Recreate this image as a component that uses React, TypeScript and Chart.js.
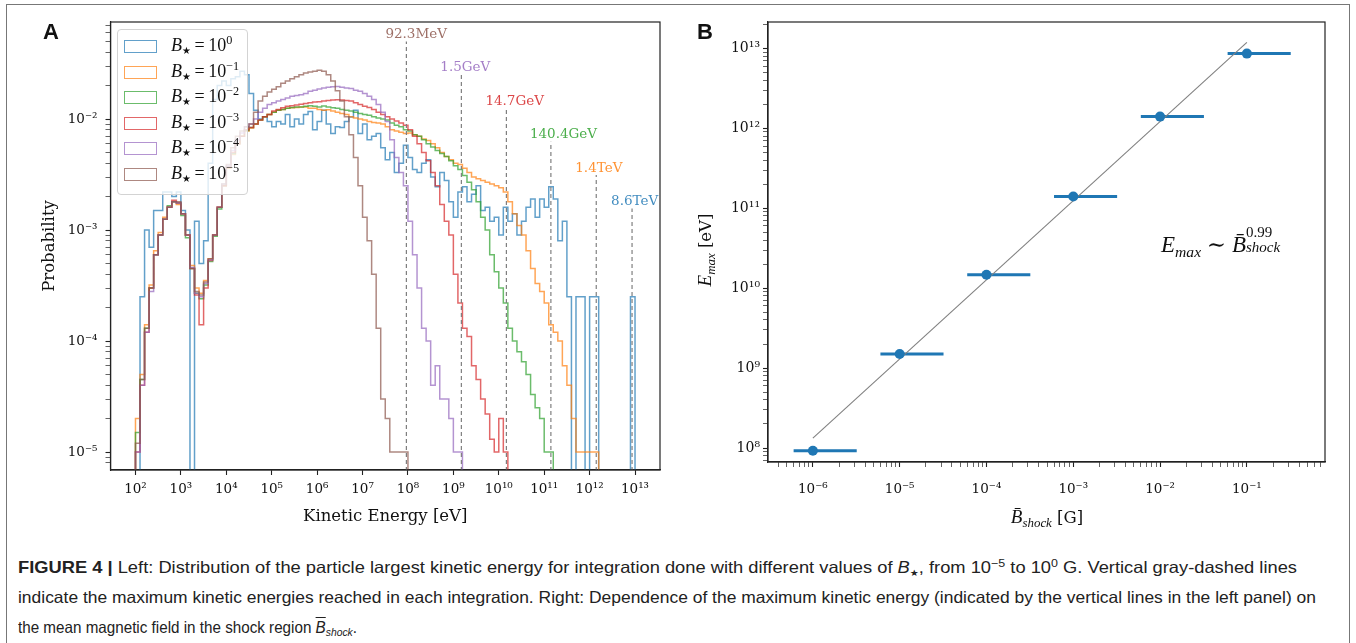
import React, { useEffect, useLayoutEffect, useRef } from "react";
import { Chart, registerables } from "chart.js";

Chart.register(...registerables);

// ---------------- Panel A : histograms ----------------
// bins of 0.1 decade starting at 10^2 eV
const BIN_START_LOG = 2.0;
const BIN_WIDTH_LOG = 0.1;
const FLOOR = 1e-7;

const HIST_B_1E0 = [
  0, 2.5e-4, 1e-3, 7e-4, 1.5e-3, 1.5e-3, 2.2e-3, 2.2e-3, 2e-3, 2.2e-3,
  1.5e-3, 1e-3, 0, 1.2e-3, 5e-4, 8e-4, 4e-3, 1.5e-2, 2e-2, 2.2e-2,
  2e-2, 2.3e-2, 2.4e-2, 2.7e-2, 2.5e-2, 1.7e-2, 1.2e-2, 1e-2, 1.05e-2, 9.5e-3,
  8.5e-3, 9.5e-3, 9e-3, 1.1e-2, 8.5e-3, 1e-2, 9e-3, 1.1e-2, 1.17e-2, 8e-3,
  9.5e-3, 1.2e-2, 9e-3, 7.4e-3, 8.5e-3, 8.4e-3, 9.5e-3, 1.04e-2, 1.2e-2, 7.4e-3,
  9e-3, 6.5e-3, 7e-3, 7.4e-3, 5.5e-3, 4.3e-3, 5e-3, 3.3e-3, 4e-3, 5.8e-3,
  4.5e-3, 3.5e-3, 3.3e-3, 4e-3, 4.3e-3, 3e-3, 2.45e-3, 3.3e-3, 2.8e-3, 1.8e-3,
  1.3e-3, 2.2e-3, 2.45e-3, 1.8e-3, 2.1e-3, 2.5e-3, 1.5e-3, 1.6e-3, 1.2e-3, 1.3e-3,
  9e-4, 1.6e-3, 1.2e-3, 1.4e-3, 9e-4, 1.2e-3, 1.6e-3, 1.9e-3, 1.3e-3, 1.9e-3,
  1.6e-3, 2.45e-3, 1.9e-3, 8e-4, 1.2e-3, 2.5e-4, 0, 2.5e-4, 2.5e-4, 0,
  2.5e-4, 2.5e-4, 0, 0, 0, 0, 0, 0, 0, 2.5e-4,
];
const HIST_B_1EM1 = [
  2e-5, 5e-5, 1.4e-4, 3.2e-4, 6.5e-4, 9.5e-4, 1.3e-3, 1.6e-3, 1.8e-3, 1.7e-3,
  1.4e-3, 9e-4, 4.8e-4, 3e-4, 2.7e-4, 3.5e-4, 5.5e-4, 9e-4, 1.6e-3, 2.5e-3,
  3.6e-3, 4.8e-3, 6e-3, 7e-3, 7.8e-3, 8.3e-3, 9e-3, 9.8e-3, 1.05e-2, 1.1e-2,
  1.15e-2, 1.2e-2, 1.22e-2, 1.25e-2, 1.26e-2, 1.27e-2, 1.28e-2, 1.28e-2, 1.25e-2, 1.25e-2,
  1.22e-2, 1.2e-2, 1.21e-2, 1.18e-2, 1.15e-2, 1.12e-2, 1.1e-2, 1.05e-2, 1.02e-2, 1e-2,
  9.8e-3, 9.5e-3, 9.3e-3, 9.2e-3, 9e-3, 8.5e-3, 8e-3, 7.8e-3, 7.6e-3, 7.4e-3,
  7.5e-3, 7.2e-3, 7e-3, 6.6e-3, 6.4e-3, 6e-3, 5.5e-3, 5e-3, 4.6e-3, 4.3e-3,
  4e-3, 3.9e-3, 3.6e-3, 3.3e-3, 3e-3, 2.9e-3, 2.8e-3, 2.7e-3, 2.6e-3, 2.5e-3,
  2.4e-3, 2.2e-3, 1.8e-3, 1.4e-3, 1.1e-3, 9e-4, 6.5e-4, 4.5e-4, 3.3e-4, 2.8e-4,
  2.2e-4, 1.4e-4, 1.2e-4, 1e-4, 6e-5, 4e-5, 2e-5, 1e-5, 1e-5, 1e-5,
  1e-5, 1e-5,
];
const HIST_B_1EM2 = [
  1.5e-5, 4.5e-5, 1.3e-4, 3e-4, 6e-4, 9e-4, 1.25e-3, 1.65e-3, 1.8e-3, 1.75e-3,
  1.35e-3, 8.5e-4, 4.5e-4, 2.7e-4, 2.4e-4, 3.2e-4, 5.2e-4, 8.8e-4, 1.55e-3, 2.5e-3,
  3.7e-3, 4.9e-3, 6e-3, 7e-3, 7.9e-3, 8.4e-3, 9e-3, 9.8e-3, 1.05e-2, 1.1e-2,
  1.15e-2, 1.2e-2, 1.22e-2, 1.25e-2, 1.27e-2, 1.28e-2, 1.28e-2, 1.3e-2, 1.32e-2, 1.3e-2,
  1.28e-2, 1.31e-2, 1.28e-2, 1.26e-2, 1.25e-2, 1.22e-2, 1.2e-2, 1.18e-2, 1.15e-2, 1.12e-2,
  1.1e-2, 1.08e-2, 1.05e-2, 1.02e-2, 1e-2, 9.8e-3, 9.2e-3, 8.8e-3, 8.5e-3, 8e-3,
  7.8e-3, 7.2e-3, 7e-3, 6.5e-3, 6e-3, 5.6e-3, 5.2e-3, 4.9e-3, 4.6e-3, 4.2e-3,
  3.8e-3, 3.5e-3, 3.1e-3, 2.7e-3, 2.3e-3, 1.8e-3, 1.3e-3, 1e-3, 6e-4, 4.2e-4,
  3e-4, 2.2e-4, 1.3e-4, 1e-4, 8e-5, 6.5e-5, 5e-5, 3.3e-5, 2.5e-5, 2e-5,
  1e-5, 1e-5,
];
const HIST_B_1EM3 = [
  1e-5, 4e-5, 1.2e-4, 3e-4, 6e-4, 9e-4, 1.25e-3, 1.6e-3, 1.85e-3, 1.75e-3,
  1.4e-3, 9e-4, 4.5e-4, 2.6e-4, 1.4e-4, 3e-4, 5.3e-4, 9e-4, 1.6e-3, 2.5e-3,
  3.7e-3, 5e-3, 6e-3, 7e-3, 8e-3, 8.4e-3, 9e-3, 9.8e-3, 1.05e-2, 1.1e-2,
  1.18e-2, 1.22e-2, 1.26e-2, 1.3e-2, 1.32e-2, 1.34e-2, 1.36e-2, 1.38e-2, 1.4e-2, 1.42e-2,
  1.43e-2, 1.45e-2, 1.47e-2, 1.48e-2, 1.49e-2, 1.48e-2, 1.47e-2, 1.45e-2, 1.4e-2, 1.35e-2,
  1.3e-2, 1.27e-2, 1.22e-2, 1.15e-2, 1.1e-2, 1.05e-2, 1e-2, 9.6e-3, 9.2e-3, 8.8e-3,
  8e-3, 7e-3, 6e-3, 5e-3, 4.2e-3, 3.3e-3, 2.5e-3, 1.7e-3, 1.2e-3, 9e-4,
  4e-4, 2.2e-4, 1.3e-4, 1.1e-4, 6e-5, 4.5e-5, 3e-5, 2.2e-5, 1.3e-5, 1e-5,
  2e-5, 1e-5,
];
const HIST_B_1EM4 = [
  1e-5, 4e-5, 1.2e-4, 2.8e-4, 6e-4, 9e-4, 1.25e-3, 1.6e-3, 1.8e-3, 1.75e-3,
  1.4e-3, 9e-4, 4.6e-4, 2.7e-4, 2.5e-4, 3.3e-4, 5.4e-4, 9e-4, 1.6e-3, 2.6e-3,
  3.8e-3, 5.2e-3, 6.5e-3, 7.5e-3, 8.5e-3, 9e-3, 1e-2, 1.15e-2, 1.25e-2, 1.35e-2,
  1.4e-2, 1.45e-2, 1.5e-2, 1.55e-2, 1.6e-2, 1.63e-2, 1.65e-2, 1.7e-2, 1.78e-2, 1.82e-2,
  1.86e-2, 1.9e-2, 1.93e-2, 1.95e-2, 1.96e-2, 1.93e-2, 1.9e-2, 1.88e-2, 1.82e-2, 1.78e-2,
  1.7e-2, 1.6e-2, 1.5e-2, 1.35e-2, 1.15e-2, 9.5e-3, 6.5e-3, 4.5e-3, 3.3e-3, 2.5e-3,
  1.2e-3, 6e-4, 3e-4, 1.3e-4, 1e-4, 4e-5, 6e-5, 3e-5, 3e-5, 2e-5,
  1e-5, 1e-5,
];
const HIST_B_1EM5 = [
  1.2e-5, 4.5e-5, 1.3e-4, 3e-4, 6e-4, 9e-4, 1.25e-3, 1.6e-3, 1.8e-3, 1.8e-3,
  1.4e-3, 9e-4, 4.5e-4, 2.8e-4, 2.6e-4, 3.4e-4, 5.5e-4, 9e-4, 1.6e-3, 2.6e-3,
  3.9e-3, 5.5e-3, 7e-3, 7.8e-3, 8.5e-3, 9e-3, 1.15e-2, 1.45e-2, 1.6e-2, 1.75e-2,
  1.85e-2, 1.95e-2, 2.1e-2, 2.2e-2, 2.3e-2, 2.4e-2, 2.5e-2, 2.6e-2, 2.65e-2, 2.7e-2,
  2.75e-2, 2.7e-2, 2.5e-2, 2.2e-2, 1.8e-2, 1.45e-2, 1.05e-2, 7.2e-3, 4.5e-3, 2.5e-3,
  1.3e-3, 8e-4, 4e-4, 1.3e-4, 3e-5, 2e-5, 1e-5, 1e-5, 1e-5, 1e-5,
];

const HIST_SERIES = [HIST_B_1E0, HIST_B_1EM1, HIST_B_1EM2, HIST_B_1EM3, HIST_B_1EM4, HIST_B_1EM5];
const SERIES_EXPONENTS = ["0", "\u22121", "\u22122", "\u22123", "\u22124", "\u22125"];
const SERIES_COLORS = [
  "rgba(31,119,180,0.7)",
  "rgba(255,127,14,0.7)",
  "rgba(44,160,44,0.7)",
  "rgba(214,39,40,0.7)",
  "rgba(148,103,189,0.7)",
  "rgba(140,86,75,0.7)",
];

// maximum energies (vertical dashed lines)
const EMAX_TEXT = ["92.3MeV", "1.5GeV", "14.7GeV", "140.4GeV", "1.4TeV", "8.6TeV"];
const EMAX_EV = [9.23e7, 1.5e9, 1.47e10, 1.404e11, 1.4e12, 8.6e12];
const EMAX_LINE_TOP = [0.05, 0.025, 0.0125, 0.00625, 0.003125, 0.0015625];
const EMAX_COLOR_INDEX = [5, 4, 3, 2, 1, 0];

// ---------------- Panel B : scaling ----------------
const B_SHOCK_G = [1e-6, 1e-5, 1e-4, 1e-3, 1e-2, 1e-1];
const B_SHOCK_LOW = [6e-7, 6e-6, 6e-5, 6e-4, 6e-3, 6e-2];
const B_SHOCK_HIGH = [3.2e-6, 3.2e-5, 3.2e-4, 3.2e-3, 3.2e-2, 3.2e-1];
const E_MAX_EV = [9.23e7, 1.5e9, 1.47e10, 1.404e11, 1.4e12, 8.6e12];
const FIT_B = [1e-6, 1e-1];
const FIT_E = [1.33e8, 1.19e13];

// ---------------- helpers ----------------
const SERIF = "'DejaVu Serif', serif";
const MATH = "'Liberation Serif', 'DejaVu Serif', serif";
const SUP: Record<string, string> = {
  "0": "\u2070", "1": "\u00b9", "2": "\u00b2", "3": "\u00b3", "4": "\u2074",
  "5": "\u2075", "6": "\u2076", "7": "\u2077", "8": "\u2078", "9": "\u2079", "-": "\u207b",
};

function isMajor(v: number) {
  const l = Math.log10(v);
  return Math.abs(l - Math.round(l)) < 1e-6;
}
function powLabel(v: number) {
  if (!isMajor(v)) return "";
  const e = Math.round(Math.log10(v));
  return "10" + String(e).split("").map((c) => SUP[c]).join("");
}
function niceTicks(majorsOnly: boolean) {
  return (scale: any) => {
    scale.ticks = scale.ticks.filter((t: any) => {
      const v = t.value;
      if (!(v > 0)) return false;
      const e = Math.floor(Math.log10(v) + 1e-9);
      const m = v / Math.pow(10, e);
      const r = Math.round(m);
      if (Math.abs(m - r) > 1e-6 || r < 1 || r > 9) return false;
      return majorsOnly ? r === 1 : true;
    });
  };
}
function stepPoints(vals: number[]) {
  const pts: { x: number; y: number }[] = [];
  pts.push({ x: Math.pow(10, BIN_START_LOG), y: FLOOR });
  vals.forEach((v, i) => {
    pts.push({ x: Math.pow(10, BIN_START_LOG + i * BIN_WIDTH_LOG), y: v > 0 ? v : FLOOR });
  });
  pts.push({ x: Math.pow(10, BIN_START_LOG + vals.length * BIN_WIDTH_LOG), y: FLOOR });
  return pts;
}

function axisCommon(majorsOnly: boolean, pad: number) {
  return {
    type: "logarithmic",
    afterBuildTicks: niceTicks(majorsOnly),
    border: { display: true, color: "#222", width: 1.2 },
    grid: {
      drawOnChartArea: false,
      drawTicks: true,
      tickLength: 5,
      tickColor: "#222",
      tickWidth: (ctx: any) => (ctx.tick && isMajor(ctx.tick.value) ? 1.1 : 0.7),
    },
    ticks: {
      autoSkip: false,
      maxRotation: 0,
      minRotation: 0,
      padding: pad,
      color: "#111",
      font: { family: SERIF, size: 13.5 },
      callback: (v: any) => powLabel(Number(v)),
    },
  };
}

const framePlugin = {
  id: "frame",
  afterDraw(chart: any) {
    const { ctx, chartArea } = chart;
    ctx.save();
    ctx.strokeStyle = "#222";
    ctx.lineWidth = 1.2;
    ctx.strokeRect(chartArea.left, chartArea.top, chartArea.right - chartArea.left, chartArea.bottom - chartArea.top);
    ctx.restore();
  },
};

const emaxLabelPlugin = {
  id: "emaxLabels",
  afterDatasetsDraw(chart: any) {
    const { ctx } = chart;
    const xs = chart.scales.x;
    const ys = chart.scales.y;
    ctx.save();
    ctx.font = `13.5px ${SERIF}`;
    ctx.textAlign = "left";
    ctx.textBaseline = "middle";
    EMAX_EV.forEach((e, i) => {
      const px = xs.getPixelForValue(e);
      const py = ys.getPixelForValue(EMAX_LINE_TOP[i]);
      ctx.fillStyle = SERIES_COLORS[EMAX_COLOR_INDEX[i]].replace("0.7)", "0.85)");
      ctx.fillText(EMAX_TEXT[i], px - 21, py - 7);
    });
    ctx.restore();
  },
};

function configA(): any {
  const datasets: any[] = [];
  EMAX_EV.forEach((e, i) => {
    datasets.push({
      data: [{ x: e, y: FLOOR }, { x: e, y: EMAX_LINE_TOP[i] }],
      borderColor: "#7f7f7f",
      borderWidth: 1.2,
      borderDash: [4, 3],
      pointRadius: 0,
      fill: false,
      order: 0,
    });
  });
  HIST_SERIES.forEach((vals, i) => {
    datasets.push({
      data: stepPoints(vals),
      stepped: true,
      borderColor: SERIES_COLORS[i],
      borderWidth: 1.5,
      pointRadius: 0,
      fill: false,
      order: 10 - i,
    });
  });
  const x: any = axisCommon(true, 6);
  x.min = Math.pow(10, 1.45);
  x.max = Math.pow(10, 13.55);
  x.afterFit = (s: any) => { s.height = 61; };
  x.title = { display: true, text: "Kinetic Energy [eV]", color: "#111", font: { family: SERIF, size: 16.5 }, padding: { top: 4, bottom: 4 } };
  const y: any = axisCommon(false, 8);
  y.min = Math.pow(10, -5.162);
  y.max = Math.pow(10, -1.126);
  y.afterFit = (s: any) => { s.width = 74.5; };
  y.title = { display: true, text: "Probability", color: "#111", font: { family: SERIF, size: 16.5 }, padding: { top: 4, bottom: 4 } };
  return {
    type: "line",
    data: { datasets },
    options: {
      animation: false,
      responsive: false,
      events: [],
      layout: { padding: { left: 36, top: 22, right: 20, bottom: 9 } },
      plugins: { legend: { display: false }, tooltip: { enabled: false } },
      scales: { x, y },
    },
    plugins: [emaxLabelPlugin, framePlugin],
  };
}

function configB(): any {
  const barPts: any[] = [];
  B_SHOCK_G.forEach((_, i) => {
    barPts.push({ x: B_SHOCK_LOW[i], y: E_MAX_EV[i] });
    barPts.push({ x: B_SHOCK_HIGH[i], y: E_MAX_EV[i] });
    barPts.push({ x: B_SHOCK_HIGH[i], y: null });
  });
  const datasets: any[] = [
    {
      data: B_SHOCK_G.map((b, i) => ({ x: b, y: E_MAX_EV[i] })),
      showLine: false,
      pointRadius: 5,
      pointBackgroundColor: "#1f77b4",
      pointBorderColor: "#1f77b4",
      pointBorderWidth: 0,
      order: 0,
    },
    {
      data: FIT_B.map((b, i) => ({ x: b, y: FIT_E[i] })),
      borderColor: "#808080",
      borderWidth: 1.1,
      pointRadius: 0,
      order: 1,
    },
    {
      data: barPts,
      borderColor: "#1f77b4",
      borderWidth: 3,
      pointRadius: 0,
      spanGaps: false,
      order: 2,
    },
  ];
  const x: any = axisCommon(false, 14);
  x.min = Math.pow(10, -6.517);
  x.max = Math.pow(10, -0.1);
  x.afterFit = (s: any) => { s.height = 78; };
  const y: any = axisCommon(false, 3);
  y.ticks.font = { family: SERIF, size: 14 };
  y.min = Math.pow(10, 7.825);
  y.max = Math.pow(10, 13.33);
  y.afterFit = (s: any) => { s.width = 88; };
  return {
    type: "line",
    data: { datasets },
    options: {
      animation: false,
      responsive: false,
      events: [],
      layout: { padding: { left: 0, top: 22, right: 31, bottom: 0 } },
      plugins: { legend: { display: false }, tooltip: { enabled: false } },
      scales: { x, y },
    },
    plugins: [framePlugin],
  };
}

const supStyle: React.CSSProperties = { fontSize: "0.68em", position: "relative", top: "-0.55em" };
const subStyle: React.CSSProperties = { fontSize: "0.68em", position: "relative", top: "0.3em" };
const starStyle: React.CSSProperties = { fontFamily: "'DejaVu Sans', sans-serif", fontSize: "0.55em", position: "relative", top: "0.35em" };

// target right edges (px) of the three caption lines
const CAPTION_RIGHT = [1297, 1316, 357];
const CAPTION_LEFT = 18;

export default function App() {
  const refA = useRef<HTMLCanvasElement>(null);
  const refB = useRef<HTMLCanvasElement>(null);
  const lineRefs = [useRef<HTMLDivElement>(null), useRef<HTMLDivElement>(null), useRef<HTMLDivElement>(null)];

  useEffect(() => {
    const charts: Chart[] = [];
    if (refA.current) charts.push(new Chart(refA.current, configA()));
    if (refB.current) charts.push(new Chart(refB.current, configB()));
    return () => charts.forEach((c) => c.destroy());
  }, []);

  useLayoutEffect(() => {
    lineRefs.forEach((r, i) => {
      const el = r.current;
      if (!el) return;
      el.style.transform = "none";
      const w = el.getBoundingClientRect().width;
      const target = CAPTION_RIGHT[i] - CAPTION_LEFT;
      if (w > 0) el.style.transform = `scaleX(${target / w})`;
    });
  }, []);

  const captionFont = "'Liberation Sans', Arial, sans-serif";
  const lineStyle = (top: number): React.CSSProperties => ({
    position: "absolute", left: CAPTION_LEFT, top, display: "inline-block", whiteSpace: "nowrap",
    transformOrigin: "0 0", fontFamily: captionFont, fontSize: 16.5, lineHeight: "22px", color: "#222",
  });

  return (
    <div style={{ position: "absolute", left: 0, top: 0, width: 1356, height: 643, background: "#fff", overflow: "hidden", color: "#111" }}>
      <div style={{ position: "absolute", left: 6, top: 4, width: 1344, height: 700, border: "1px solid #777", boxSizing: "border-box" }} />
      <canvas ref={refA} width={680} height={540} style={{ position: "absolute", left: 0, top: 0, width: 680, height: 540 }} />
      <canvas ref={refB} width={676} height={540} style={{ position: "absolute", left: 680, top: 0, width: 676, height: 540 }} />

      <div style={{ position: "absolute", left: 43, top: 21, font: "bold 22px 'Liberation Sans', Arial, sans-serif", lineHeight: "22px" }}>A</div>
      <div style={{ position: "absolute", left: 697, top: 21, font: "bold 22px 'Liberation Sans', Arial, sans-serif", lineHeight: "22px" }}>B</div>

      {/* legend of panel A */}
      <div style={{ position: "absolute", left: 117, top: 29, width: 131, height: 166, border: "1px solid #d3d3d3", borderRadius: 4, background: "rgba(255,255,255,0.8)", boxSizing: "border-box" }}>
        {SERIES_EXPONENTS.map((e, i) => (
          <div key={i} style={{ position: "absolute", left: 6, top: 10 + i * 25.5, width: 120, height: 13 }}>
            <span style={{ position: "absolute", left: 0, top: 0, width: 33, height: 13, border: `1.5px solid ${SERIES_COLORS[i]}`, boxSizing: "border-box" }} />
            <span style={{ position: "absolute", left: 47, top: -6, fontFamily: MATH, fontSize: 18, lineHeight: "22px", whiteSpace: "nowrap" }}>
              <i>B</i>
              <span style={starStyle}>{"\u2605"}</span>
              {"\u2009=\u200910"}
              <span style={supStyle}>{e}</span>
            </span>
          </div>
        ))}
      </div>

      {/* panel B annotations */}
      <div style={{ position: "absolute", left: 1161, top: 230, fontFamily: MATH, fontSize: 23, lineHeight: "30px", whiteSpace: "nowrap" }}>
        <i>E</i>
        <span style={subStyle}><i>max</i></span>
        {" \u223c "}
        <i>B&#772;</i>
        <span style={{ position: "relative", display: "inline-block", width: 38, height: 10, fontSize: 15 }}>
          <span style={{ position: "absolute", left: 0, top: -18, lineHeight: "16px" }}>0.99</span>
          <span style={{ position: "absolute", left: 0, top: -3, lineHeight: "16px" }}><i>shock</i></span>
        </span>
      </div>
      <div style={{ position: "absolute", left: 705, top: 250, transform: "translate(-50%,-50%) rotate(-90deg)", fontFamily: MATH, fontSize: 19, whiteSpace: "nowrap" }}>
        <i>E</i>
        <span style={subStyle}><i>max</i></span>
        <span style={{ fontFamily: SERIF, fontSize: 16.5 }}>{" [eV]"}</span>
      </div>
      <div style={{ position: "absolute", left: 1047, top: 517, transform: "translate(-50%,-50%)", fontFamily: MATH, fontSize: 19, whiteSpace: "nowrap" }}>
        <i>B&#772;</i>
        <span style={subStyle}><i>shock</i></span>
        <span style={{ fontFamily: SERIF, fontSize: 16.5 }}>{" [G]"}</span>
      </div>

      {/* caption */}
      <div ref={lineRefs[0]} style={lineStyle(556)}>
        <b>FIGURE 4 |</b> Left: Distribution of the particle largest kinetic energy for integration done with different values of <i>B</i>
        <span style={starStyle}>{"\u2605"}</span>, from 10<span style={supStyle}>{"\u22125"}</span> to 10<span style={supStyle}>0</span> G. Vertical gray-dashed lines
      </div>
      <div ref={lineRefs[1]} style={lineStyle(586)}>
        indicate the maximum kinetic energies reached in each integration. Right: Dependence of the maximum kinetic energy (indicated by the vertical lines in the left panel) on
      </div>
      <div ref={lineRefs[2]} style={lineStyle(616)}>
        the mean magnetic field in the shock region <i style={{ textDecoration: "overline" }}>B</i>
        <span style={subStyle}><i>shock</i></span>.
      </div>
    </div>
  );
}
